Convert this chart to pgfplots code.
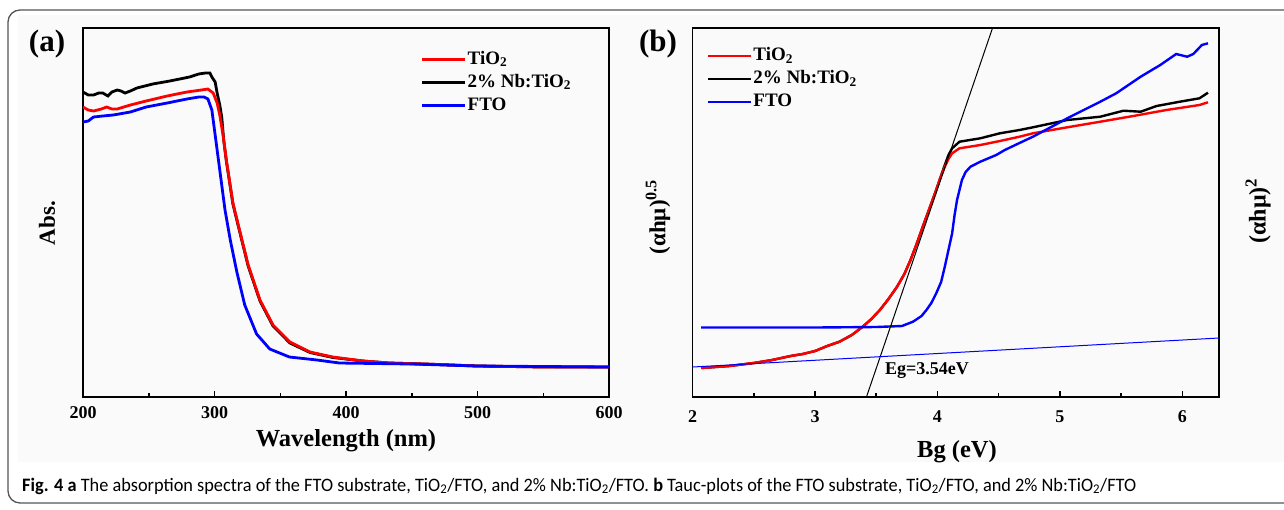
\documentclass[border=0pt]{standalone}
\usepackage{fontspec}
\setmainfont{Liberation Serif}
\newfontfamily\capfont{Carlito}
\usepackage{graphicx}
\usepackage{pgfplots}
\pgfplotsset{compat=1.18}
\definecolor{bgfill}{RGB}{250,250,250}
\definecolor{framegray}{RGB}{85,85,85}

\pgfplotstableread{
x y
200 107
204 110
208 111
214 109
218 107
222 109
226 109
236 105
248 101
264 96
279 92
290 90
295 89
299 93
302 103
304 115
306.5 135
309 160
314 203
319.4 232
325.6 265
334.6 300
344.5 325
357.4 342
372.6 352
390 357
413 361
433 363
460 364
500 366
550 367
600 367
}\redA

\pgfplotstableread{
x y
200 92
204 95
208 95
212 93
215 93
219 96
222 92
226 90
229 91
232 93
236 91
241 88
253 84
266 81
281 77
288 74
293 73
296.5 73
298 77
300.5 82
302 93
304 105
305.5 117
307 140
309 161
314 204
319.4 233
325.6 266
334.6 301
344.5 326
357.4 343
372.6 352.5
390 357.5
413 361
433 363
460 364
500 366
550 367
600 367
}\blackA

\pgfplotstableread{
x y
200 122
204 121
208 117
215 116
223 115
236 112
248 107
264 103
279 99
288 97
292 97
295 99
298 110
300 130
302 150
304 170
308 210
312 240
317 272
323 305
332 334
342 349
357 357
378 360
395 363
450 364
500 366
600 367
}\blueA

\pgfplotstableread{
x y
2.07 368
2.3 366
2.5 363
2.65 360
2.8 356
2.9 354
3.0 351
3.1 346
3.2 341.7
3.3 335
3.39 326.7
3.46 319
3.53 310
3.6 299
3.67 286.7
3.73 274
3.78 260
3.83 244
3.88 226.7
3.93 210
3.98 193.3
4.02 179
4.06 166.7
4.09 159
4.12 153.3
4.18 148.3
4.35 145
4.51 141
4.67 136.7
4.78 133.3
5.06 127.3
5.33 121.7
5.60 116
5.87 110
6.14 105
6.21 102.3
}\redB

\pgfplotstableread{
x y
2.07 368
2.3 366
2.5 363
2.65 360
2.8 356
2.9 354
3.0 351
3.1 346
3.2 341.7
3.3 335
3.39 326.7
3.46 319
3.53 310
3.6 299
3.67 286.7
3.73 274
3.78 260
3.83 244
3.88 226.7
3.93 210
3.98 193.3
4.02 179
4.06 165
4.09 155
4.12 148.3
4.18 141.7
4.35 138.3
4.51 133.3
4.67 130
4.78 127.3
5.06 120
5.33 116.7
5.52 110.7
5.66 111.7
5.79 106
5.98 101.7
6.14 98.3
6.21 92.7
}\blackB

\pgfplotstableread{
x y
2.07 327.5
2.5 327.5
3.0 327.5
3.5 327
3.71 326
3.80 321.7
3.87 316
3.91 310
3.95 303
3.99 293.3
4.03 282
4.06 266.7
4.09 250
4.12 233.3
4.14 215
4.16 200
4.20 180
4.23 172
4.27 166.7
4.35 161.7
4.48 155
4.55 150
4.67 143
4.78 136.7
4.96 125
5.06 118.3
5.33 101.7
5.46 93.3
5.66 76.7
5.82 65
5.95 54
6.04 56.7
6.09 54
6.16 45
6.21 43.3
}\blueB

\pgfplotsset{
  panel/.style={
    scale only axis, height=369pt,
    ymin=28, ymax=397, y dir=reverse,
    ytick=\empty, xtick pos=left,
    axis line style={line width=1.5pt},
    every tick/.style={line width=1.5pt, black},
    major tick length=6pt, minor tick length=4.5pt,
    minor x tick num=1,
    tick label style={font=\fontsize{18}{18}\selectfont\bfseries},
    /pgf/number format/assume math mode=true,
    legend cell align=left,
    legend image code/.code={\draw[##1] (0pt,0pt) -- (43pt,0pt);},
    legend style={draw=none, fill=none, anchor=north west, inner sep=0pt, row sep=6pt,
      font=\fontsize{19}{19}\selectfont\bfseries,
      nodes={inner sep=1pt, text height=12pt, text depth=3pt}},
  },
}

\begin{document}
\begin{tikzpicture}
\useasboundingbox (0,0) rectangle (1284pt,-509pt);
\fill[bgfill] (18pt,-15pt) rectangle (1284pt,-462pt);
\draw[rounded corners=12pt, draw=framegray, line width=1.3pt] (8pt,-10pt) rectangle (1320pt,-503pt);

\begin{axis}[panel, at={(83pt,-397pt)}, anchor=south west, width=526pt,
  xmin=200, xmax=600, xtick={200,300,400,500,600},
  xticklabel style={yshift=-6pt},
  every axis plot/.append style={line width=2.8pt},
  legend style={at={(axis description cs:0.642,0.938)}}]
\addplot[black, forget plot] table {\blackA};
\addplot[red] table {\redA};
\addlegendentry{TiO\textsubscript{2}}
\addlegendimage{black, line width=2.8pt}
\addlegendentry{2\% Nb:TiO\textsubscript{2}}
\addplot[blue] table {\blueA};
\addlegendentry{FTO}
\end{axis}

\begin{axis}[panel, at={(692.6pt,-397pt)}, anchor=south west, width=526.4pt,
  xmin=2, xmax=6.3, xtick={2,3,4,5,6},
  xticklabel style={yshift=-10pt},
  every axis plot/.append style={line width=2.4pt},
  legend style={at={(axis description cs:0.027,0.948)}}]
\addplot[black, forget plot] table {\blackB};
\addplot[red] table {\redB};
\addlegendentry{TiO\textsubscript{2}}
\addlegendimage{black, line width=2.4pt}
\addlegendentry{2\% Nb:TiO\textsubscript{2}}
\addplot[blue] table {\blueB};
\addlegendentry{FTO}
\addplot[black, line width=1pt, forget plot] coordinates {(3.42,397) (4.45,28)};
\addplot[blue, line width=1pt, forget plot] coordinates {(2.0,367) (6.3,338)};
\end{axis}

\node[font=\fontsize{18}{18}\selectfont\bfseries] at (927pt,-371pt) {Eg=3.54eV};
\node[font=\fontsize{31}{31}\selectfont\bfseries] at (47pt,-44pt) {(a)};
\node[font=\fontsize{31}{31}\selectfont\bfseries] at (658pt,-44pt) {(b)};
\node[font=\fontsize{24.5}{24.5}\selectfont\bfseries] at (346pt,-441pt) {Wavelength (nm)};
\node[font=\fontsize{24.5}{24.5}\selectfont\bfseries] at (957pt,-452pt) {Bg (eV)};
\node[font=\fontsize{23}{23}\selectfont\bfseries, rotate=90] at (47pt,-223pt) {Abs.};
\node[font=\fontsize{23}{23}\selectfont\bfseries, rotate=90] at (658pt,-217pt) {(αhμ)\textsuperscript{0.5}};
\node[font=\fontsize{24}{24}\selectfont\bfseries, rotate=90] at (1258pt,-211pt) {(αhμ)\textsuperscript{2}};

\node[anchor=base west, inner sep=0pt] at (22pt,-491pt) {\resizebox{1114pt}{\height}{\capfont\fontsize{19}{19}\selectfont\textbf{Fig. 4} \textbf{a} The absorption spectra of the FTO substrate, TiO\textsubscript{2}/FTO, and 2\% Nb:TiO\textsubscript{2}/FTO. \textbf{b} Tauc-plots of the FTO substrate, TiO\textsubscript{2}/FTO, and 2\% Nb:TiO\textsubscript{2}/FTO}};
\end{tikzpicture}
\end{document}
